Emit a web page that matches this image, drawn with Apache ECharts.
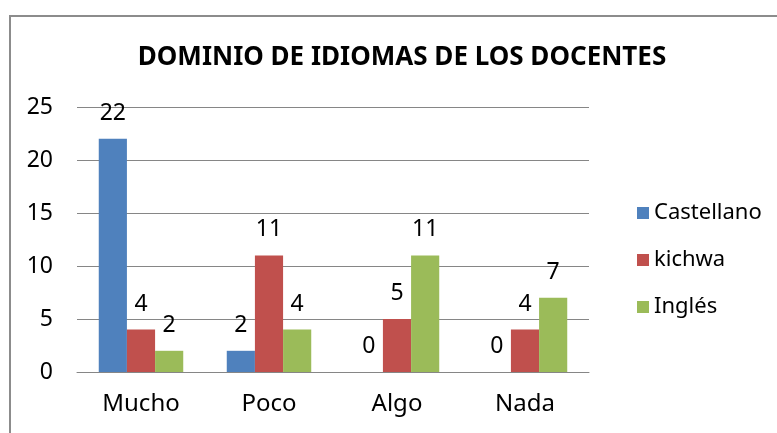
<!DOCTYPE html>
<html lang="es">
<head>
    <meta charset="UTF-8">
    <title>Dominio de idiomas de los docentes</title>
</head>
<body style="margin: 0; background: #fff">
<div id="container" style="height: 433px; width: 777px;"></div>
<script type="text/javascript" src="https://cdn.jsdelivr.net/npm/echarts@6/dist/echarts.min.js"></script>
<script type="text/javascript">
    const categories = ['Mucho', 'Poco', 'Algo', 'Nada'];
    const castellano = [22, 2, 0, 0];
    const kichwa = [4, 11, 5, 4];
    const ingles = [2, 4, 11, 7];
    const seriesNames = ['Castellano', 'kichwa', 'Inglés'];
    const colors = ['#4F81BD', '#C0504D', '#9BBB59'];

    const dom = document.getElementById('container');
    const myChart = echarts.init(dom, null, {renderer: 'canvas'});
    const font = '"Noto Sans", sans-serif';

    function barSeries(name, data, color) {
        return {
            name: name,
            type: 'bar',
            data: data,
            barGap: '0%',
            barCategoryGap: '34%',
            itemStyle: {color: color},
            label: {
                show: true,
                position: 'top',
                distance: 14,
                color: '#000',
                fontSize: 23,
                fontFamily: font
            }
        };
    }

    const option = {
        animation: false,
        backgroundColor: '#fff',
        title: {
            text: 'DOMINIO DE IDIOMAS DE LOS DOCENTES',
            left: 397,
            top: 40,
            textAlign: 'center',
            textStyle: {
                fontFamily: font,
                fontWeight: 'bold',
                fontSize: 26,
                color: '#000'
            }
        },
        legend: {
            orient: 'vertical',
            left: 632,
            top: 197,
            itemWidth: 12,
            itemHeight: 12,
            itemGap: 25,
            icon: 'rect',
            textStyle: {fontFamily: font, fontSize: 22, color: '#000'},
            data: seriesNames
        },
        grid: {left: 77, top: 107, width: 512, height: 265},
        xAxis: {
            type: 'category',
            data: categories,
            axisTick: {show: false},
            axisLine: {lineStyle: {color: '#868686', width: 1}},
            axisLabel: {fontFamily: font, fontSize: 24, color: '#000', margin: 20}
        },
        yAxis: {
            type: 'value',
            min: 0,
            max: 25,
            interval: 5,
            axisLine: {show: false},
            axisTick: {show: false},
            splitLine: {lineStyle: {color: '#868686', width: 1}},
            axisLabel: {fontFamily: font, fontSize: 23, color: '#000', margin: 24}
        },
        graphic: [{
            type: 'polyline',
            shape: {points: [[10, 433], [10, 16], [777, 16]]},
            style: {stroke: '#8c8c8c', lineWidth: 2, fill: null},
            silent: true
        }],
        series: [
            barSeries(seriesNames[0], castellano, colors[0]),
            barSeries(seriesNames[1], kichwa, colors[1]),
            barSeries(seriesNames[2], ingles, colors[2])
        ]
    };
    myChart.setOption(option);
</script>
</body>
</html>
